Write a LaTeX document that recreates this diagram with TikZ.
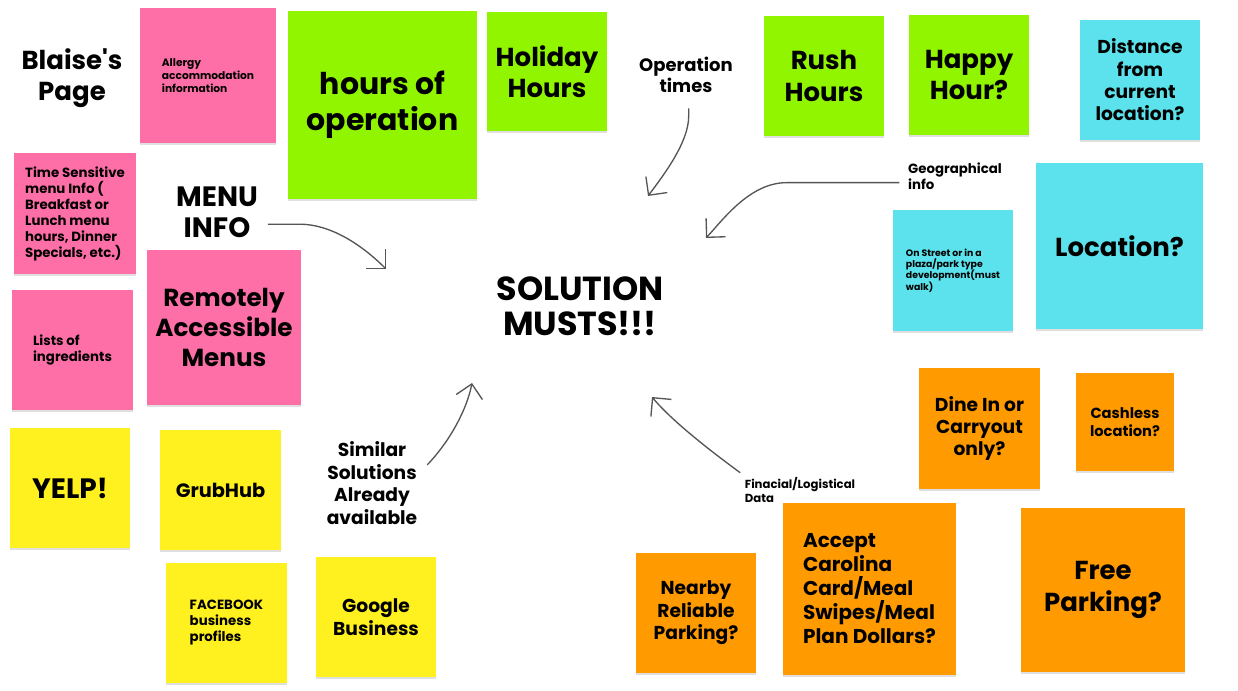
\documentclass[tikz,border=0pt]{standalone}
\usepackage{fontspec}
\setmainfont{Poppins}[Ligatures=TeXOff]
\usetikzlibrary{arrows.meta,shadows}
\definecolor{notepink}{HTML}{FF6FA7}
\definecolor{notegreen}{HTML}{92F500}
\definecolor{notecyan}{HTML}{5BE2EC}
\definecolor{noteyellow}{HTML}{FFF01F}
\definecolor{noteorange}{HTML}{FF9B00}
\definecolor{pengrey}{HTML}{555555}
\newcommand{\sz}[1]{\fontsize{#1}{\dimexpr #1pt*6/5\relax}\selectfont\bfseries}
\begin{document}
\begin{tikzpicture}
  [x=.75pt,y=-.75pt,every node/.style={align=center}]
  \tikzstyle{note} = [minimum width=90pt,minimum height=90pt,inner sep=0pt,
                      drop shadow={shadow xshift=0pt,shadow yshift=-1.2pt,opacity=.25}]
  \tikzstyle{pinknote} = [note,fill=notepink]
  \tikzstyle{greennote} = [note,fill=notegreen]
  \tikzstyle{cyannote} = [note,fill=notecyan]
  \tikzstyle{yellownote} = [note,fill=noteyellow]
  \tikzstyle{orangenote} = [note,fill=noteorange]
  \tikzstyle{pen} = [draw=pengrey,line width=1pt,-{Straight Barb[length=10pt,width=20pt]}]
  \useasboundingbox[fill=white] (0,0) rectangle (1238,691);

  \node[font=\sz{19.5}] (blaise) at (72,78) {Blaise's\\Page};
  \node[font=\fontsize{21}{23.4}\selectfont\bfseries] (menu) at (217,212) {MENU\\INFO};
  \node[font=\fontsize{25}{26.4}\selectfont\bfseries] (solution) at (580,306) {SOLUTION\\MUSTS!!!};
  \node[font=\sz{13.5}] (optimes) at (686,75) {Operation\\times};
  \node[font=\sz{10},align=left] (geo) at (955,176) {Geographical\\info};
  \node[font=\sz{14}] (similar) at (372,483) {Similar\\Solutions\\Already\\available};
  \node[font=\sz{8.75},align=left] (fin) at (800,490) {Finacial/Logistical\\Data};

  \node[pinknote,minimum width=102pt,minimum height=101.25pt,font=\sz{8},align=left] (allergy) at (208,75.5)
    {Allergy\\accommodation\\information};
  \node[pinknote,minimum width=91.5pt,minimum height=90.75pt,font=\sz{10},align=left] (timesens) at (75,213.5)
    {Time Sensitive\\menu Info (\\Breakfast or\\Lunch menu\\hours, Dinner\\Specials, etc.)};
  \node[pinknote,minimum width=90.75pt,font=\sz{10},align=left] (lists) at (72.5,350) {Lists of\\ingredients};
  \node[pinknote,minimum width=115.5pt,minimum height=116.25pt,font=\sz{18.5}] (remote) at (224,327.5)
    {Remotely\\Accessible\\Menus};

  \node[greennote,minimum width=141.75pt,minimum height=141pt,font=\sz{22.5}] (hours) at (382.5,105) {hours of\\operation};
  \node[greennote,minimum height=89.25pt,font=\sz{19.5}] (holiday) at (547,71.5) {Holiday\\Hours};
  \node[greennote,font=\sz{19.5}] (rush) at (824,76) {Rush\\Hours};
  \node[greennote,font=\sz{19.5}] (happy) at (969,75) {Happy\\Hour?};

  \node[cyannote,font=\sz{14}] (distance) at (1140,80) {Distance\\from\\current\\location?};
  \node[cyannote,minimum height=90.75pt,font=\sz{7},align=left] (street) at (953,270.5)
    {On Street or in a\\plaza/park type\\development(must\\walk)};
  \node[cyannote,minimum width=125.25pt,minimum height=124.5pt,font=\sz{19.5}] (location) at (1119.5,246) {Location?};

  \node[yellownote,font=\sz{21}] (yelp) at (70,488) {YELP!};
  \node[yellownote,minimum width=90.75pt,font=\sz{14.5}] (grubhub) at (220.5,490) {GrubHub};
  \node[yellownote,minimum width=90.75pt,font=\sz{10},align=left] (facebook) at (226.5,623) {FACEBOOK\\business\\profiles};
  \node[yellownote,font=\sz{14}] (google) at (376,617) {Google\\Business};

  \node[orangenote,minimum width=90.75pt,minimum height=90.75pt,font=\sz{14}] (dine) at (979.5,428.5) {Dine In or\\Carryout\\only?};
  \node[orangenote,minimum width=73.5pt,minimum height=73.5pt,font=\sz{11}] (cashless) at (1125,422) {Cashless\\location?};
  \node[orangenote,font=\sz{14}] (nearby) at (696,613) {Nearby\\Reliable\\Parking?};
  \node[orangenote,minimum width=129.75pt,minimum height=129pt,font=\sz{15},align=left] (accept) at (869.5,589)
    {Accept\\Carolina\\Card/Meal\\Swipes/Meal\\Plan Dollars?};
  \node[orangenote,minimum width=123pt,minimum height=123pt,font=\sz{19.5}] (freepark) at (1103,590) {Free\\Parking?};

  \coordinate (mEnd) at (386,269);
  \coordinate (oEnd) at (648,196);
  \coordinate (gEnd) at (706,238);
  \coordinate (sEnd) at (472,383);
  \coordinate (fEnd) at (652,397);

  \draw[pen] ([xshift=4pt]menu.-15) -- ++(32,0) .. controls +(30,0) and +(-25,-25) .. (mEnd);
  \draw[pen] ([xshift=2pt,yshift=-8pt]optimes.south) -- ++(0,8) .. controls +(0,26) and +(15,-20) .. (oEnd);
  \draw[pen] ([yshift=-5pt,xshift=-3pt]geo.west) -- ++(-113,0) .. controls +(-37,0) and +(16,-17) .. (gEnd);
  \draw[pen] ([xshift=4pt]similar.20) .. controls +(23,-24) and +(-5,26) .. (sEnd);
  \draw[pen] (fin.north west) .. controls +(-30,-22) and +(20,24) .. (fEnd);

\end{tikzpicture}
\end{document}
